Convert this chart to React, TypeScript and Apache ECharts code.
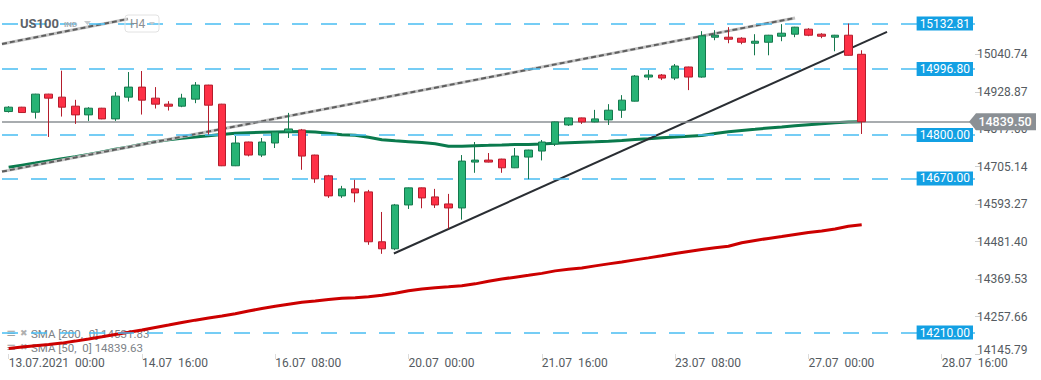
import React, { useEffect, useRef } from 'react';
import * as echarts from 'echarts';

const xTickLabels = ['13.07.2021  00:00', '14.07  16:00', '16.07  08:00', '20.07  00:00', '21.07  16:00', '23.07  08:00', '27.07  00:00', '28.07  16:00'];
const slotCount = 73;
const categories = Array.from({ length: slotCount }, (_, i) => 'c' + i);

const opens = [14870, 14883, 14868, 14922, 14913, 14886, 14860, 14880, 14848, 14913, 14943, 14910, 14892, 14886, 14907, 14949, 14892, 14708, 14779, 14740, 14776, 14809, 14815, 14740, 14678, 14618, 14639, 14630, 14481, 14460, 14591, 14642, 14615, 14594, 14582, 14719, 14725, 14728, 14702, 14734, 14752, 14773, 14830, 14851, 14839, 14845, 14874, 14901, 14973, 14979, 14970, 15003, 14973, 15092, 15092, 15089, 15074, 15077, 15095, 15101, 15116, 15101, 15092, 15098, 15041];
const closes = [14883, 14867, 14922, 14910, 14883, 14860, 14880, 14848, 14916, 14943, 14904, 14892, 14886, 14910, 14949, 14889, 14708, 14776, 14740, 14779, 14809, 14818, 14737, 14669, 14618, 14639, 14627, 14481, 14460, 14591, 14642, 14612, 14591, 14582, 14722, 14725, 14719, 14702, 14737, 14755, 14779, 14839, 14851, 14839, 14848, 14874, 14904, 14976, 14979, 14970, 15006, 14973, 15096, 15098, 15086, 15077, 15080, 15098, 15104, 15122, 15098, 15095, 15098, 15038, 14839.5];
const lows = [14867, 14866, 14849, 14794, 14855, 14833, 14842, 14847, 14842, 14900, 14861, 14879, 14873, 14883, 14895, 14801, 14707, 14707, 14736, 14734, 14761, 14791, 14696, 14657, 14612, 14612, 14599, 14472, 14445, 14456, 14579, 14581, 14582, 14520, 14547, 14687, 14718, 14687, 14701, 14668, 14724, 14767, 14827, 14833, 14838, 14830, 14851, 14900, 14964, 14964, 14964, 14934, 14971, 15083, 15074, 15071, 15038, 15038, 15080, 15092, 15095, 15089, 15050, 15037, 14803];
const highs = [14886, 14884, 14923, 14923, 14992, 14905, 14883, 14881, 14928, 14988, 14991, 14943, 14901, 14923, 14958, 14950, 14893, 14797, 14780, 14791, 14810, 14866, 14818, 14741, 14681, 14648, 14666, 14636, 14570, 14594, 14643, 14643, 14639, 14624, 14740, 14779, 14746, 14729, 14761, 14756, 14785, 14840, 14852, 14852, 14875, 14892, 14919, 14979, 14994, 14982, 15012, 15004, 15110, 15113, 15122, 15092, 15101, 15099, 15131, 15123, 15119, 15104, 15099, 15132.81, 15053];

const sma50 = [14703.4, 14709.7, 14716, 14722.5, 14729, 14734.7, 14741.5, 14749.6, 14757.6, 14764.5, 14772.5, 14780, 14786, 14790, 14794, 14797.9, 14801.5, 14805, 14806.8, 14808, 14808.9, 14809.8, 14810.4, 14809, 14805.3, 14800.9, 14799.4, 14793.4, 14786, 14782.4, 14780, 14777.6, 14774, 14766.6, 14766.6, 14768, 14769, 14770.1, 14771.6, 14771.6, 14773.1, 14775.5, 14777, 14778.5, 14779.4, 14781.2, 14783.6, 14786.3, 14789, 14791.9, 14794, 14796.4, 14798.5, 14804.4, 14809.5, 14813.7, 14817.2, 14820.8, 14824.1, 14827.7, 14830.7, 14833.6, 14836.6, 14839, 14839.63];
const sma200 = [14162.2, 14166.4, 14170.6, 14174.4, 14178.3, 14184.3, 14190.8, 14197.4, 14204.3, 14210.8, 14217.6, 14225.1, 14232.3, 14239.7, 14246.9, 14253.5, 14259.4, 14266, 14274, 14281.7, 14288.3, 14294.3, 14300.2, 14304.1, 14308.3, 14312.1, 14313.6, 14316.6, 14321.1, 14327, 14334.5, 14340.2, 14344, 14346.4, 14349.4, 14355.3, 14362.8, 14369.7, 14375.3, 14380.7, 14386.6, 14394.1, 14398.6, 14402.7, 14409, 14415, 14420.9, 14426.9, 14432.9, 14439.4, 14446.2, 14452.2, 14458.2, 14463.2, 14467.7, 14478.1, 14485, 14491, 14496.9, 14502.9, 14508.8, 14513.3, 14519.3, 14527.6, 14531.83];

const levels = [15132.81, 14996.8, 14800.0, 14670.0, 14210.0];
const lastPrice = 14839.5;
const yMin = 14145.79;
const yMax = 15203.15;
const yTickLabels = ['14145.79', '14257.66', '14369.53', '14481.40', '14593.27', '14705.14', '14817.00', '14928.87', '15040.74'];

const trendX = [28.9, 65.9];
const trendY = [14446, 15108];
const channelX = [-0.5, 59.0];
const channelY = [14690.6, 15149.5];
const channelTopX = [-0.5, 8.95];
const channelTopY = [15072, 15146.5];

const FONT = 'Roboto, "Noto Sans", sans-serif';

function pairs(xs: number[], ys: number[]) {
  return xs.map((x, i) => [x, ys[i]]);
}

function channelSeries(name: string, xs: number[], ys: number[]) {
  return [
    {
      name: name + '-base', type: 'line', xAxisIndex: 1, yAxisIndex: 0, data: pairs(xs, ys),
      symbol: 'none', silent: true, z: 4,
      lineStyle: { color: '#c4c4c4', width: 3 },
    },
    {
      name: name + '-dash', type: 'line', xAxisIndex: 1, yAxisIndex: 0, data: pairs(xs, ys),
      symbol: 'none', silent: true, z: 4,
      lineStyle: { color: '#5e5e5e', width: 2, type: [5, 3] },
    },
  ];
}

export default function App() {
  const ref = useRef<HTMLDivElement>(null);

  useEffect(() => {
    if (!ref.current) return;
    document.body.style.margin = '0';
    const chart = echarts.init(ref.current, undefined, { renderer: 'svg' });
    const tickValues = yTickLabels.map(Number);

    chart.setOption({
      animation: false,
      textStyle: { fontFamily: FONT },
      grid: { left: 2, right: 66, top: 0, bottom: 26, containLabel: false },
      xAxis: [
        {
          type: 'category',
          data: categories,
          boundaryGap: true,
          axisLine: { show: false, onZero: false },
          axisTick: {
            show: true, alignWithLabel: true, length: 5,
            interval: (i: number) => i % 10 === 0,
            lineStyle: { color: '#dcdcdc' },
          },
          axisLabel: {
            interval: (i: number) => i % 10 === 0,
            formatter: (_v: string, i: number) => xTickLabels[i / 10] ?? '',
            align: 'left', margin: 3, color: '#555b61', fontSize: 12, fontFamily: FONT,
          },
          splitLine: { show: false },
        },
        {
          type: 'value', min: -0.5, max: slotCount - 0.5, show: false,
          axisLine: { show: false, onZero: false }, axisTick: { show: false }, axisLabel: { show: false }, splitLine: { show: false },
        },
      ],
      yAxis: [
        {
          type: 'value', position: 'right', min: yMin, max: yMax,
          axisLine: { show: false, onZero: false },
          splitLine: { show: false },
          minorTick: { show: false },
          axisTick: { show: true, length: 5, customValues: tickValues, lineStyle: { color: '#d0d0d0' } },
          axisLabel: {
            customValues: tickValues,
            margin: 2, color: '#555b61', fontSize: 12, fontFamily: FONT,
            formatter: (v: number) => {
              const k = tickValues.findIndex((t) => Math.abs(t - v) < 0.005);
              if (k < 0) return '';
              return k === 0 ? '{m|' + yTickLabels[k] + '}' : yTickLabels[k];
            },
            rich: { m: { padding: [0, 0, 8, 0], color: '#555b61', fontSize: 12, fontFamily: FONT } },
          },
        },
      ],
      series: [
        {
          name: 'SMA200', type: 'line', data: sma200, symbol: 'none', silent: true, z: 3,
          lineStyle: { color: '#cc0000', width: 3 },
        },
        {
          name: 'SMA50', type: 'line', data: sma50, symbol: 'none', silent: true, z: 3,
          lineStyle: { color: '#0a7a4d', width: 3 },
        },
        ...channelSeries('channel', channelX, channelY),
        ...channelSeries('channelTop', channelTopX, channelTopY),
        {
          name: 'trend', type: 'line', xAxisIndex: 1, yAxisIndex: 0, data: pairs(trendX, trendY),
          symbol: 'none', silent: true, z: 4,
          lineStyle: { color: '#2a2e33', width: 2 },
        },
        {
          name: 'US100', type: 'candlestick', z: 5,
          data: opens.map((o, i) => [o, closes[i], lows[i], highs[i]]),
          barWidth: 8,
          itemStyle: {
            color: '#27b375', color0: '#fe3046',
            borderColor: '#15784d', borderColor0: '#b41d2c', borderWidth: 1,
          },
          markLine: {
            silent: true,
            symbol: ['none', 'none'],
            lineStyle: { color: '#48bdf2', width: 1.5, type: [16, 13] },
            label: {
              show: true, position: 'insideEnd', distance: [2, 0], verticalAlign: 'middle',
              backgroundColor: '#13a0e3', color: '#ffffff', padding: [1, 3, 1, 3],
              fontSize: 12, lineHeight: 12, fontFamily: FONT,
              formatter: (p: any) => Number(p.value).toFixed(2),
            },
            data: [
              ...levels.map((v) => ({ yAxis: v })),
              {
                yAxis: lastPrice,
                lineStyle: { color: '#8b9095', width: 1.5, type: 'solid' },
                label: { show: false },
              },
            ],
          },
        },
      ],
    });

    const yLast = chart.convertToPixel({ yAxisIndex: 0 }, lastPrice) as number;
    const yLow = chart.convertToPixel({ yAxisIndex: 0 }, levels[4]) as number;
    const smaText = (p: number, v: number) => `SMA [${p},  0] ${v.toFixed(2)}`;

    chart.setOption({
      graphic: [
        { type: 'text', x: 6, y: 333, z: 0, style: { text: '≡', fill: '#a3a3a3', fontSize: 12, verticalAlign: 'middle', fontFamily: 'DejaVu Sans' } },
        { type: 'text', x: 20, y: 333, z: 0, style: { text: '✖', fill: '#b0b0b0', fontSize: 9, verticalAlign: 'middle', fontFamily: 'DejaVu Sans' } },
        { type: 'text', x: 31, y: 334, z: 0, style: { text: smaText(200, sma200[sma200.length - 1]), fill: '#7d8287', fontSize: 11.5, verticalAlign: 'middle', fontFamily: FONT } },
        { type: 'text', x: 6, y: 347, z: 0, style: { text: '≡', fill: '#a3a3a3', fontSize: 12, verticalAlign: 'middle', fontFamily: 'DejaVu Sans' } },
        { type: 'text', x: 20, y: 347, z: 0, style: { text: '✖', fill: '#b0b0b0', fontSize: 9, verticalAlign: 'middle', fontFamily: 'DejaVu Sans' } },
        { type: 'text', x: 31, y: 348, z: 0, style: { text: smaText(50, sma50[sma50.length - 1]), fill: '#7d8287', fontSize: 11.5, verticalAlign: 'middle', fontFamily: FONT } },
        { type: 'text', x: 20, y: 23, z: 10, style: { text: 'US100', fill: '#5d6268', fontSize: 13, fontWeight: 'bold', verticalAlign: 'middle', fontFamily: FONT } },
        { type: 'text', x: 64, y: 24, z: 10, style: { text: 'IND', fill: '#a9afb5', fontSize: 8, fontWeight: 'bold', verticalAlign: 'middle', fontFamily: FONT } },
        { type: 'polygon', z: 10, shape: { points: [[84, 21], [91, 21], [87.5, 25]] }, style: { fill: '#c6cacd' } },
        { type: 'rect', z: 10, shape: { x: 125, y: 15, width: 34, height: 17, r: 3 }, style: { fill: 'none', stroke: '#e2e2e2', lineWidth: 1 } },
        { type: 'text', x: 130, y: 24, z: 10, style: { text: 'H4', fill: '#8a8f94', fontSize: 12, verticalAlign: 'middle', fontFamily: FONT } },
        { type: 'polygon', z: 10, shape: { points: [[149, 22], [155, 22], [152, 25]] }, style: { fill: '#c6cacd' } },
        { type: 'circle', z: 1, shape: { cx: 922, cy: yLow, r: 4.5 }, style: { fill: 'none', stroke: '#f5a623', lineWidth: 1.5 } },
        {
          type: 'polygon', z: 20,
          shape: { points: [[969, yLast], [976, yLast - 8.5], [1036, yLast - 8.5], [1036, yLast + 8.5], [976, yLast + 8.5]] },
          style: { fill: '#8b9095' },
        },
        {
          type: 'text', x: 1005, y: yLast, z: 21,
          style: { text: lastPrice.toFixed(2), fill: '#ffffff', fontSize: 12.5, fontWeight: 500, align: 'center', verticalAlign: 'middle', fontFamily: FONT },
        },
      ],
    });

    return () => chart.dispose();
  }, []);

  return <div ref={ref} style={{ position: 'absolute', left: 0, top: 0, width: 1041, height: 380 }} />;
}
